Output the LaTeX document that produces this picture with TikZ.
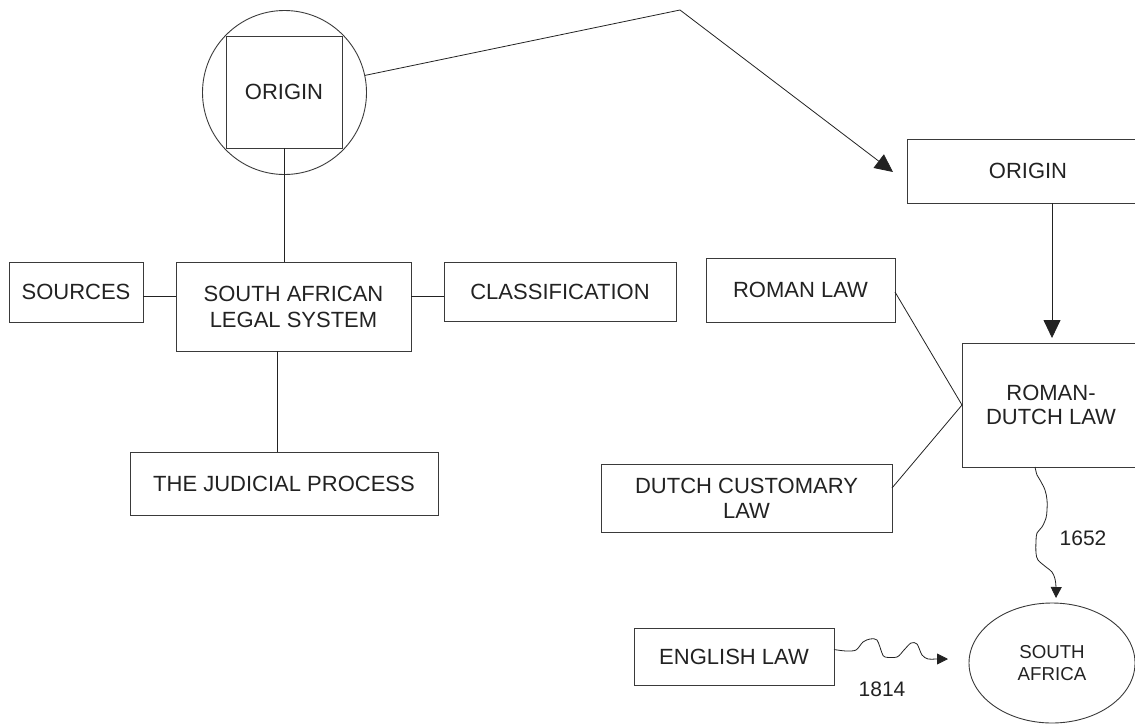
\documentclass[tikz,border=0pt]{standalone}
\usepackage{fontspec}
\setmainfont{Liberation Sans}
\usetikzlibrary{arrows.meta,shapes.geometric}
\definecolor{ink}{HTML}{222222}
\definecolor{edge}{HTML}{3A3A3A}

\begin{document}
\begin{tikzpicture}[x=1pt,y=-1pt,
  box/.style={draw=edge, line width=1pt, inner sep=0pt, outer sep=0pt,
    align=center, text=ink, font=\fontsize{22}{26}\selectfont},
  link/.style={draw=ink, line width=0.8pt},
  bigtip/.style={-{Triangle[length=18pt,width=17pt]}},
  smalltip/.style={-{Triangle[length=11pt,width=11pt]}},
  yearlabel/.style={text=ink, font=\fontsize{21}{24}\selectfont, inner sep=0pt}]

\useasboundingbox (0,0) rectangle (1135,723);
\clip (0,0) rectangle (1135,723);

% left cluster
\node[circle, draw=edge, line width=0.9pt, minimum size=164pt, inner sep=0pt, outer sep=0pt]
  (circ) at (284.5,92.5) {};
\node[box, minimum width=116pt, minimum height=112pt] (orig) at (284,92) {ORIGIN};
\node[box, minimum width=134pt, minimum height=60pt] (src) at (76,292) {SOURCES};
\node[box, minimum width=235pt, minimum height=89pt] (sals) at (293.5,306.5)
  {SOUTH AFRICAN\\LEGAL SYSTEM};
\node[box, minimum width=232pt, minimum height=59pt] (cls) at (560,291.5) {CLASSIFICATION};
\node[box, minimum width=308pt, minimum height=63pt] (jud) at (284,483.5) {THE JUDICIAL PROCESS};

% right cluster
\node[box, minimum width=242pt, minimum height=64pt] (orig2) at (1028,171) {ORIGIN};
\node[box, minimum width=189pt, minimum height=64pt] (roman) at (800.5,290) {ROMAN LAW};
\node[box, minimum width=291pt, minimum height=68pt] (dutch) at (746.5,498)
  {DUTCH CUSTOMARY\\[-1pt]LAW};
\node[box, minimum width=178pt, minimum height=124pt, font=\fontsize{22}{24}\selectfont]
  (rdl) at (1051,405) {ROMAN-\\DUTCH LAW};
\node[box, minimum width=200pt, minimum height=57pt] (eng) at (734,656.5) {ENGLISH LAW};
\node[ellipse, draw=edge, line width=0.9pt, minimum width=166pt, minimum height=120pt,
  inner sep=0pt, outer sep=0pt, align=center, text=ink,
  font=\fontsize{18.7}{22.5}\selectfont] (sa) at (1052,663) {SOUTH\\AFRICA};

\node[yearlabel] (y1652) at (1083,538) {1652};
\node[yearlabel] (y1814) at (882,689) {1814};

% free ends of connectors
\coordinate (apex) at (680,10);
\coordinate (o2tip) at (893,172);
\coordinate (satip) at (1056,598);
\coordinate (engtip) at (948,659);

% straight links of the left cluster
\draw[link] (orig.south) -- (orig.south |- sals.north);
\path ([xshift=-7pt]jud.north) coordinate (judtop);
\draw[link] (judtop) -- (judtop |- sals.south);
\path ([yshift=-4pt]src.east) coordinate (srcr);
\draw[link] (srcr) -- (srcr -| sals.west);
\path ([yshift=-5pt]cls.west) coordinate (clsl);
\draw[link] (clsl) -- (clsl -| sals.east);

% bent arrow from the circle to the second origin box
\draw[link, bigtip, line join=miter] (circ.12) -- (apex) -- (o2tip);

% origin down to Roman-Dutch law
\path ([xshift=24pt]orig2.south) coordinate (o2s);
\draw[link, bigtip, shorten >=5pt] (o2s) -- (o2s |- rdl.north);

% sources of Roman-Dutch law
\path ([yshift=-2pt]roman.east) coordinate (rome);
\path ([yshift=10pt]dutch.east) coordinate (dute);
\draw[link] (rome) -- (rdl.west) -- (dute);

% reception in 1652
\path ([xshift=-16pt]rdl.south) coordinate (w0);
\draw[link, smalltip] plot[smooth, tension=0.55] coordinates {
  (w0) (1037,475) (1040,480) (1045,490) (1047,500) (1047,510) (1046,518)
  (1042,527) (1037,533) (1036,541) (1036,553) (1038,560) (1046,567)
  (1052,572) (1055,579) (1056,587) (satip)};

% English influence from 1814
\path ([yshift=7pt]eng.east) coordinate (e0);
\draw[link, smalltip] plot[smooth, tension=0.5] coordinates {
  (e0) (846,651) (856,650) (863,642) (870,639) (877,640) (882,653)
  (885,657) (897,657) (904,650) (911,643) (917,644) (922,655)
  (928,659) (936,659) (engtip)};

\end{tikzpicture}
\end{document}
